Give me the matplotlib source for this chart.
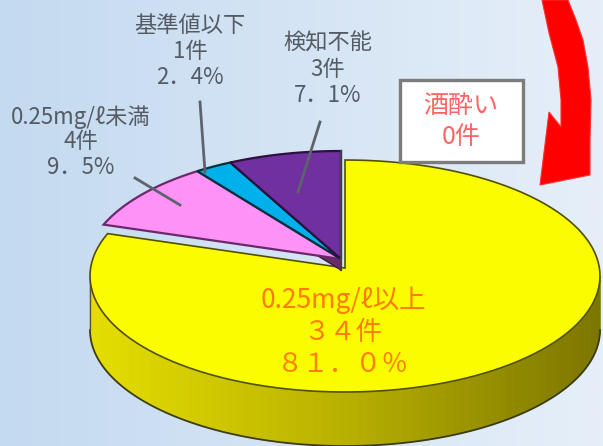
import numpy as np
import matplotlib
matplotlib.use("Agg")
import matplotlib.pyplot as plt
from matplotlib.patches import Polygon, Rectangle
from matplotlib.colors import LinearSegmentedColormap

plt.rcParams['font.family'] = ['Noto Sans CJK JP', 'DejaVu Sans']

# data
categories = ['0.25mg/ℓ以上', '0.25mg/ℓ未満', '基準値以下', '検知不能']
counts = [34, 4, 1, 3]
pct_labels = ['８１．０％', '9．5%', '2．4%', '7．1%']
count_labels = ['３４件', '4件', '1件', '3件']
colors = ['#fcfc00', '#ff92f6', '#00b0ea', '#7030a0']
edge_colors = ['#505000', '#6a2a6a', '#00303c', '#2c1040']
drunk_label = '酒酔い'
drunk_count = '0件'

W, H = 603, 446
fig = plt.figure(figsize=(W / 100, H / 100), dpi=100)
ax = fig.add_axes([0, 0, 1, 1])
ax.set_xlim(0, W)
ax.set_ylim(H, 0)
ax.axis('off')

# background gradient
grad = np.linspace(0, 1, 256).reshape(1, -1)
bg = LinearSegmentedColormap.from_list('bg', ['#c4daf0', '#e6eff9'])
ax.imshow(grad, cmap=bg, extent=[0, W, H, 0], aspect='auto', zorder=0)

# pie geometry (pixels)
cx, cy = 345, 276
A, B = 255, 116
apex_y = 268  # top face apex a bit above centre (perspective)
depth = 54
lift_dx, lift_dy = -4, -9


def arc(t0, t1, ox=0, oy=0, n=120):
    t = np.radians(np.linspace(t0, t1, n))
    return np.column_stack([cx + ox + A * np.cos(t), cy + oy - B * np.sin(t)])


angles = np.array(counts) / sum(counts) * 360
starts = 90 - np.concatenate([[0], np.cumsum(angles)[:-1]])
ends = starts - angles

# big slice: side with gradient
side_cmap = LinearSegmentedColormap.from_list('side', ['#e6de00', '#b8b000', '#7c7600'])
ts = np.linspace(-180, 0, 90)
for i in range(len(ts) - 1):
    top = arc(ts[i], ts[i + 1], n=4)
    bot = top[::-1] + [0, depth]
    c = side_cmap((cx + A * np.cos(np.radians((ts[i] + ts[i + 1]) / 2)) - (cx - A)) / (2 * A))
    ax.add_patch(Polygon(np.vstack([top, bot]), closed=True, facecolor=c,
                         edgecolor=c, lw=0.6, zorder=2))
ax.plot(*arc(-180, 0, oy=depth).T, color='#3c3c10', lw=1.3, zorder=3)
ax.plot([cx - A, cx - A], [cy, cy + depth], color='#5a5a30', lw=1, zorder=3)

# big slice: top
pts = np.vstack([[cx, apex_y], arc(starts[0], ends[0])])
ax.add_patch(Polygon(pts, closed=True, facecolor=colors[0], edgecolor=edge_colors[0],
                     lw=1.2, zorder=4))

# lifted small slices
ocx, ocy = cx + lift_dx, apex_y + lift_dy
end_pt = arc(ends[1], ends[1], lift_dx, lift_dy, n=1)[0]
face = np.array([[ocx, ocy], end_pt, end_pt + [0, 11], [ocx, ocy + 11]])
ax.add_patch(Polygon(face, closed=True, facecolor='#6a2c68', edgecolor='#40183c',
                     lw=1, zorder=5))
for k in range(1, len(counts)):
    pts = np.vstack([[ocx, ocy], arc(starts[k], ends[k], lift_dx, lift_dy)])
    ax.add_patch(Polygon(pts, closed=True, facecolor=colors[k], edgecolor=edge_colors[k],
                         lw=1.6, zorder=6))
ax.plot([ocx, ocx], [cy - B + lift_dy, ocy + 11], color='#404048', lw=1.6, zorder=7)

# leader lines
lc = '#5c636c'
ax.plot([200, 205], [102, 172], color=lc, lw=2, zorder=8)
ax.plot([320, 298], [122, 192], color=lc, lw=2, zorder=8)
ax.plot([135, 180], [178, 205], color=lc, lw=2, zorder=8)

# labels
tc = '#555b64'
def label(x, ys, lines, color, size):
    for y, s in zip(ys, lines):
        ax.text(x, y, s, ha='center', va='center', color=color, fontsize=size, zorder=9)

label(190, [25, 51, 77], [categories[2], count_labels[2], pct_labels[2]], tc, 16)
label(328, [43, 70, 95], [categories[3], count_labels[3], pct_labels[3]], tc, 16)
label(81, [117, 142, 167], [categories[1], count_labels[1], pct_labels[1]], tc, 16)
label(343, [300, 333, 364], [categories[0], count_labels[0], pct_labels[0]], '#ff7c00', 19)

# drunk driving box
ax.add_patch(Rectangle((400, 80), 123, 82, facecolor='white', edgecolor='#7c7c7c',
                       lw=2.4, zorder=8))
label(461, [106, 137], [drunk_label, drunk_count], '#ff6464', 18)

# red curved arrow
right = [(568, 0), (576, 20), (583, 40), (588, 67), (591, 100), (590, 140), (590, 175)]
left = [(549, 112), (561, 127), (561, 100), (558, 67), (549, 33), (542, 0)]
arrow = right + [(540, 185)] + left
ax.add_patch(Polygon(arrow, closed=True, facecolor='#ff0000', edgecolor='#ff3030',
                     lw=0.8, zorder=8))

fig.savefig('out.png', dpi=100)
